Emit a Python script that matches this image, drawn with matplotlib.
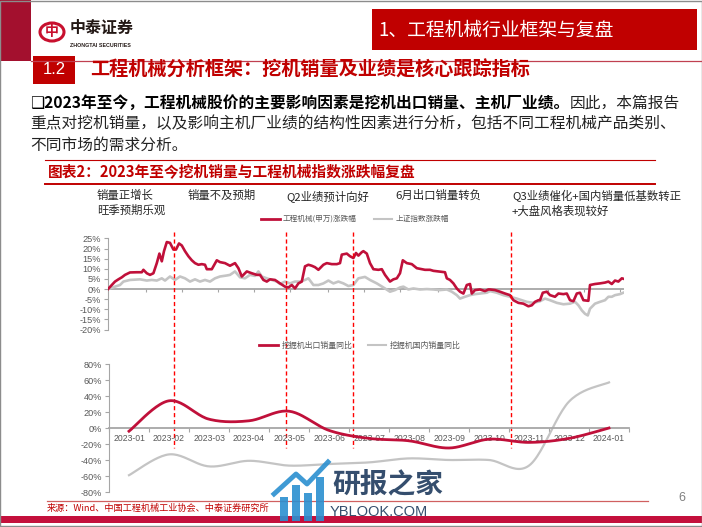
import numpy as np
import matplotlib
matplotlib.use('Agg')
import matplotlib.pyplot as plt
from matplotlib.lines import Line2D
from matplotlib.patches import Rectangle, Circle
import matplotlib.transforms as mtrans

plt.rcParams['font.family'] = ['Noto Sans CJK SC', 'DejaVu Sans']

# ---------------- data ----------------
# top panel: cumulative change since 2023-01-03 (%), x = trading day index
top_red_t = [0, 1.9, 3.5, 5.2, 6.9, 8.5, 11, 14.4, 16.9, 17.7, 19.4, 21, 22.7, 24.4, 25.7, 26.9, 28, 29.4,
             31, 32.7, 34, 35.5, 36.9, 38.5, 40.2, 41.9, 43.5, 45.2, 46.9, 48.5, 49.4, 51.9, 54.4, 56, 58.5,
             61, 63.5, 65.2, 66.9, 69.4, 71.9, 74.4, 76, 77.7, 79.4, 81, 83.5, 86, 88.5, 90.2, 91.9, 93.5,
             95.2, 96.9, 98.5, 100.2, 101.9, 103.5, 105.2, 107.7, 109.4, 111.9, 114.4, 116, 116.9, 119.4,
             121, 122.7, 124, 125.2, 126.9, 127.7, 129.4, 131, 132.7, 135.2, 136.9, 138.5, 141, 142.7,
             144.4, 146, 147.4, 149.4, 151.9, 154.4, 156.9, 158.5, 161, 162.7, 165.2, 168.5, 169.4, 171,
             172.7, 174.4, 176, 177.7, 179.4, 181, 181.9, 183.5, 186, 188.5, 190.2, 191, 193.5, 196, 198.5,
             201, 202.7, 205.2, 207.7, 210.2, 211.9, 213.5, 215.2, 216, 217.4, 219.4, 221, 223.5, 225.2,
             227.7, 229.4, 231, 232.7, 234.4, 236, 237.7, 240.2, 241, 243.5, 246, 248.5, 250.2, 251.9,
             253.5, 255.2, 256.9, 258]
top_red_v = [0, 2, 3.7, 4.8, 5.8, 7, 8.2, 8.3, 8.3, 9.5, 7.8, 7, 7.8, 12.8, 17.5, 13.7, 18.7, 23.2,
             22.8, 19.5, 19.5, 22.5, 21.5, 18.7, 16.2, 14.2, 12.8, 12, 12.3, 12, 9.8, 9.8, 14.2, 13.3, 12.8,
             11.5, 12.8, 10.3, 6.2, 8.7, 7.8, 7, 7, 4.5, 3.7, 4.8, 4.5, 2.8, 1.2, 0.8, 2, 0.3,
             2.8, 3.7, 11.2, 12, 11.5, 10.8, 9.5, 12, 12.8, 12.3, 12.3, 12.8, 17, 17.5,
             16.2, 15.3, 17.8, 16.5, 18.2, 18.7, 17.5, 12.8, 9.8, 9.5, 9.8, 7, 3.7, 4.8,
             5.3, 7.8, 14.2, 12.8, 12.3, 10.3, 9.8, 9.5, 9.5, 9, 8.7, 8.3, 5.3, 4.5,
             2.8, 0.3, -1.3, -2.2, 2, 2.5, -2.2, -0.5, -0.2, -1, -0.2, -0.2, -0.5, -1.3, -2.2,
             -3, -5.5, -6.8, -7.2, -8.5, -8, -6.3, -5.5, -5.5, -1.8, -1.3, -3, -3.8, -2.2,
             -2.5, -2.2, -5.5, -6, -2.2, -1.8, -5.5, -5.8, 2, 2.5, 2.8, 3.2, 3.7, 2.5,
             4.2, 3.7, 5.3, 5]
top_gray_t = [0, 3.5, 6, 7.7, 11, 16, 19.4, 21.9, 24.4, 26.9, 28.5, 31, 33.5, 36, 38.5, 41, 43.5, 46,
              48.5, 51, 53.5, 56, 59.4, 61, 63.5, 66, 68.5, 71, 73.5, 75.2, 76.9, 79.4, 81.9, 84.4, 86,
              88.5, 91, 93.5, 96, 98.5, 100.2, 102.7, 105.2, 107.7, 110.2, 112.7, 115.2, 117.7, 120.2,
              122.7, 125.2, 128.5, 131, 134.4, 137.7, 141, 143.5, 146, 147.7, 150.2, 152.7, 156, 159.4,
              162.7, 166, 169.4, 171.9, 174.4, 176, 178.5, 181, 183.5, 186, 189.4, 191, 194.4, 197.7,
              201, 204.4, 206.9, 209.4, 212.7, 216, 218.5, 221, 224.4, 227.7, 231, 233.5, 235.2, 236.9,
              238.5, 239.9, 241, 243.5, 246, 248.5, 250.2, 251.9, 253.5, 256, 257.7]
top_gray_v = [0, 1.2, 2, 3.7, 4.5, 4.8, 4.2, 4.5, 4.2, 5.3, 4.2, 6.2, 4.5, 6.2, 5.3, 3.7, 4.8, 3.7,
              4.5, 3.7, 5.3, 6.2, 6.7, 7, 8.7, 5.8, 5.3, 7, 6.5, 8.7, 6.2, 5.3, 4.5, 3.7, 2.5,
              3.7, 2.8, 3.7, 3.7, 4.5, 5.3, 2, 2, 2.8, 4.2, 2.8, 3.7, 2.8, 1.5,
              2, 5.3, 6, 4.5, 2.8, 0.8, -1.3, -0.5, 0.8, 1.2, -0.2, 0.3, -0.2, 0,
              -0.2, -0.5, -0.2, -1.3, -3, -4.7, -3.8, -3, -2.5, -2.2, -1.8, -1, -1.8, -3,
              -3.8, -4.7, -5.5, -6.3, -6.8, -6, -4.7, -5.5, -6.8, -7.5, -7.2, -6.3, -8, -10.5,
              -12.2, -13, -9.7, -7.2, -6.3, -5.5, -3.8, -3.8, -3, -2.5, -1.8]
top_xlim = [0, 258]
top_yticks = [-20, -15, -10, -5, 0, 5, 10, 15, 20, 25]
top_xticks = [19, 37, 55, 73, 91, 110, 128, 146, 165, 183, 201, 220, 238, 256]
event_days = [33, 89, 122.5, 201.5]

# bottom panel: monthly YoY (%)
months = ['2023-01', '2023-02', '2023-03', '2023-04', '2023-05', '2023-06', '2023-07',
          '2023-08', '2023-09', '2023-10', '2023-11', '2023-12', '2024-01']
export_yoy = [-4, 34, 11, 9, 21, -3, -13, -16, -25, -14, -18, -13, 0]
domestic_yoy = [-59, -33, -48, -41, -47, -45, -43, -38, -40, -40, -47, 33, 57]
bottom_yticks = [-80, -60, -40, -20, 0, 20, 40, 60, 80]

annotations = [("销量正增长\n旺季预期乐观", 97), ("销量不及预期", 188), ("Q2业绩预计向好", 286),
               ("6月出口销量转负", 395), ("Q3业绩催化+国内销量低基数转正\n+大盘风格表现较好", 512)]

RED = '#C00000'
LINE_RED = '#C0103A'
GRAY = '#C4C4C4'
AX_GRAY = '#A6A6A6'
LAB = '#595959'
NUM_FONT = ['Liberation Sans', 'DejaVu Sans']

W, H = 702, 527
fig = plt.figure(figsize=(W / 100, H / 100), dpi=100)
fig.patch.set_facecolor('white')


def X(px):
    return px / W


def Y(py):
    return 1 - py / H


def rect(x0, y0, x1, y1, **kw):
    fig.add_artist(Rectangle((X(x0), Y(y1)), X(x1) - X(x0), Y(y0) - Y(y1),
                             transform=fig.transFigure, **kw))


def hline(y, x0, x1, **kw):
    fig.add_artist(Line2D([X(x0), X(x1)], [Y(y), Y(y)], transform=fig.transFigure, **kw))


def smooth(xs, ys, n=24):
    P = np.column_stack([np.asarray(xs, float), np.asarray(ys, float)])
    P = np.vstack([P[0], P, P[-1]])
    out = []
    t = np.linspace(0, 1, n, endpoint=False)[:, None]
    for i in range(1, len(P) - 2):
        p0, p1, p2, p3 = P[i - 1], P[i], P[i + 1], P[i + 2]
        c1 = p1 + (p2 - p0) / 6
        c2 = p2 - (p3 - p1) / 6
        out.append((1 - t) ** 3 * p1 + 3 * (1 - t) ** 2 * t * c1 + 3 * (1 - t) * t ** 2 * c2 + t ** 3 * p2)
    out.append(P[-2][None, :])
    a = np.vstack(out)
    return a[:, 0], a[:, 1]


# ---------------- slide decoration ----------------
rect(0, 0, 31, 61, facecolor='#A3102E', edgecolor='none')
hline(61, 31, 702, color='#C04050', lw=0.9)
# logo
fig.add_artist(Circle((X(52), Y(32)), 12 / W, transform=fig.transFigure, facecolor='none',
                      edgecolor='#C8102E', lw=2.2))
fig.text(X(52), Y(32), '中', color='#C8102E', fontsize=10, fontweight='bold', ha='center', va='center')
fig.text(X(70), Y(28), '中泰证券', fontsize=11.5, fontweight='bold', color='#231815', va='center')
fig.text(X(70), Y(45), 'ZHONGTAI SECURITIES', fontsize=3.8, fontweight='bold', color='#231815', va='center',
         family=NUM_FONT)
# header box
rect(372, 9, 697, 50, facecolor=RED, edgecolor='none')
fig.text(X(378), Y(30), '1、工程机械行业框架与复盘', color='white', fontsize=13.5, va='center')
# section title
rect(33, 56, 75, 84, facecolor=RED, edgecolor='none')
fig.text(X(54), Y(70), '1.2', color='white', fontsize=12, ha='center', va='center', family=NUM_FONT)
fig.text(X(90), Y(70), '工程机械分析框架：挖机销量及业绩是核心跟踪指标', color=RED, fontsize=13.8,
         fontweight='bold', va='center')

# body text
renderer = fig.canvas.get_renderer()
t1 = fig.text(X(30), Y(103), '❑2023年至今，工程机械股价的主要影响因素是挖机出口销量、主机厂业绩。',
              fontsize=11.3, fontweight='bold', color='black', va='center')
bb = t1.get_window_extent(renderer)
fig.text(bb.x1 / W, Y(103), '因此，本篇报告', fontsize=11.3, color='#222222', va='center')
fig.text(X(30), Y(124), '重点对挖机销量，以及影响主机厂业绩的结构性因素进行分析，包括不同工程机械产品类别、',
         fontsize=11.3, color='#222222', va='center')
fig.text(X(30), Y(145), '不同市场的需求分析。', fontsize=11.3, color='#222222', va='center')

# chart title
hline(160, 45, 655, color=RED, lw=0.8)
fig.text(X(48), Y(171), '图表2：2023年至今挖机销量与工程机械指数涨跌幅复盘', color=RED, fontsize=10.6,
         fontweight='bold', va='center')
hline(184, 45, 655, color=RED, lw=1.4)

# annotations
for txt, x in annotations:
    fig.text(X(x), Y(190), txt, fontsize=8.2, color='#262626', va='top', linespacing=1.35)

# ---------------- top chart ----------------
ax1 = fig.add_axes([X(108), Y(329.6), X(624) - X(108), Y(238.4) - Y(329.6)])
ax1.set_xlim(*top_xlim)
ax1.set_ylim(-20, 25)
ax1.axhline(0, color=AX_GRAY, lw=1.3, zorder=1)
ax1.vlines(top_xticks, -1.3, 0, color=AX_GRAY, lw=0.8)
ax1.plot(top_gray_t, top_gray_v, color=GRAY, lw=1.9, zorder=2)
ax1.plot(top_red_t, top_red_v, color=LINE_RED, lw=1.9, zorder=3)
for s in ['top', 'right', 'bottom']:
    ax1.spines[s].set_visible(False)
ax1.spines['left'].set_color(AX_GRAY)
ax1.spines['left'].set_linewidth(0.8)
ax1.set_xticks([])
ax1.set_yticks(top_yticks)
ax1.set_yticklabels([f'{v}%' for v in top_yticks], family=NUM_FONT)
ax1.tick_params(axis='y', labelsize=6.6, labelcolor=LAB, color=AX_GRAY, length=3, width=0.8, pad=2)
ax1.patch.set_alpha(0)

# top legend
fig.add_artist(Line2D([X(261), X(280)], [Y(219), Y(219)], transform=fig.transFigure, color=LINE_RED, lw=2))
fig.text(X(283), Y(219), '工程机械(申万)涨跌幅', fontsize=5.5, color=LAB, va='center')
fig.add_artist(Line2D([X(374), X(392)], [Y(219), Y(219)], transform=fig.transFigure, color=GRAY, lw=1.5))
fig.text(X(396), Y(219), '上证指数涨跌幅', fontsize=5.5, color=LAB, va='center')

# ---------------- bottom chart ----------------
ax2 = fig.add_axes([X(109), Y(492), X(629) - X(109), Y(364) - Y(492)])
ax2.set_xlim(-0.5, len(months) - 0.5)
ax2.set_ylim(-80, 80)
xi = np.arange(len(months))
sx, sy = smooth(xi, domestic_yoy)
ax2.plot(sx, sy, color=GRAY, lw=1.6, zorder=2)
sx, sy = smooth(xi, export_yoy)
ax2.plot(sx, sy, color=LINE_RED, lw=2.0, zorder=3)
for s in ['top', 'right']:
    ax2.spines[s].set_visible(False)
ax2.spines['bottom'].set_position(('data', 0))
ax2.spines['bottom'].set_color(AX_GRAY)
ax2.spines['bottom'].set_linewidth(1.3)
ax2.spines['left'].set_color(AX_GRAY)
ax2.spines['left'].set_linewidth(0.8)
ax2.set_xticks(np.arange(-0.5, len(months), 1.0))
ax2.set_xticklabels([])
ax2.set_xticks(xi, minor=True)
ax2.set_xticklabels(months, minor=True, family=NUM_FONT)
ax2.tick_params(axis='x', which='major', length=3, color=AX_GRAY, width=0.8)
ax2.tick_params(axis='x', which='minor', length=0, labelsize=6.2, labelcolor=LAB, pad=4)
ax2.set_yticks(bottom_yticks)
ax2.set_yticklabels([f'{v}%' for v in bottom_yticks], family=NUM_FONT)
ax2.tick_params(axis='y', labelsize=6.6, labelcolor=LAB, color=AX_GRAY, length=3, width=0.8, pad=2)
ax2.patch.set_alpha(0)

# bottom legend
fig.add_artist(Line2D([X(259), X(278)], [Y(345), Y(345)], transform=fig.transFigure, color=LINE_RED, lw=2))
fig.text(X(282), Y(345), '挖掘机出口销量同比', fontsize=5.7, color=LAB, va='center')
fig.add_artist(Line2D([X(368), X(386)], [Y(345), Y(345)], transform=fig.transFigure, color=GRAY, lw=1.5))
fig.text(X(390), Y(345), '挖掘机国内销量同比', fontsize=5.7, color=LAB, va='center')

# event lines spanning both panels
bt = mtrans.blended_transform_factory(ax1.transData, fig.transFigure)
for d in event_days:
    ax1.plot([d, d], [Y(232), Y(448)], transform=bt, clip_on=False, color='#FF0000', lw=1.0,
             dashes=(3, 2), zorder=5)

# ---------------- watermark ----------------
for i, (bx, bh) in enumerate([(280, 24), (292, 36), (304, 28), (316, 44)]):
    rect(bx, 521 - bh, bx + 8, 521, facecolor='#2A8FD0', edgecolor='none', alpha=0.9, zorder=6)
fig.add_artist(Line2D([X(274), X(296), X(307), X(328)], [Y(494), Y(474), Y(484), Y(462)],
                      transform=fig.transFigure, color='#2A8FD0', lw=3.5, alpha=0.9, zorder=6))
fig.text(X(332), Y(484), '研报之家', fontsize=20, fontweight='bold', color='#1F3B5E', va='center', alpha=0.9,
         zorder=7)
fig.text(X(330), Y(512), 'YBLOOK.COM', fontsize=10.5, color='#1F3B5E', va='center', alpha=0.9,
         family=NUM_FONT, zorder=7)

# ---------------- footer ----------------
hline(501, 47, 648, color='#D06060', lw=0.9)
fig.text(X(47), Y(508), '来源：Wind、中国工程机械工业协会、中泰证券研究所', fontsize=6.6, color=RED, va='center')
fig.text(X(678), Y(498), '6', fontsize=9, color='#808080', va='center', family=NUM_FONT)
rect(0, 516, 702, 523, facecolor='#C4103C', edgecolor='none')
fig.add_artist(Rectangle((0.0007, 0.001), 0.9986, 0.998, transform=fig.transFigure, facecolor='none',
                         edgecolor='#8C8C8C', lw=1))

fig.savefig('out.png', dpi=100, facecolor='white')
